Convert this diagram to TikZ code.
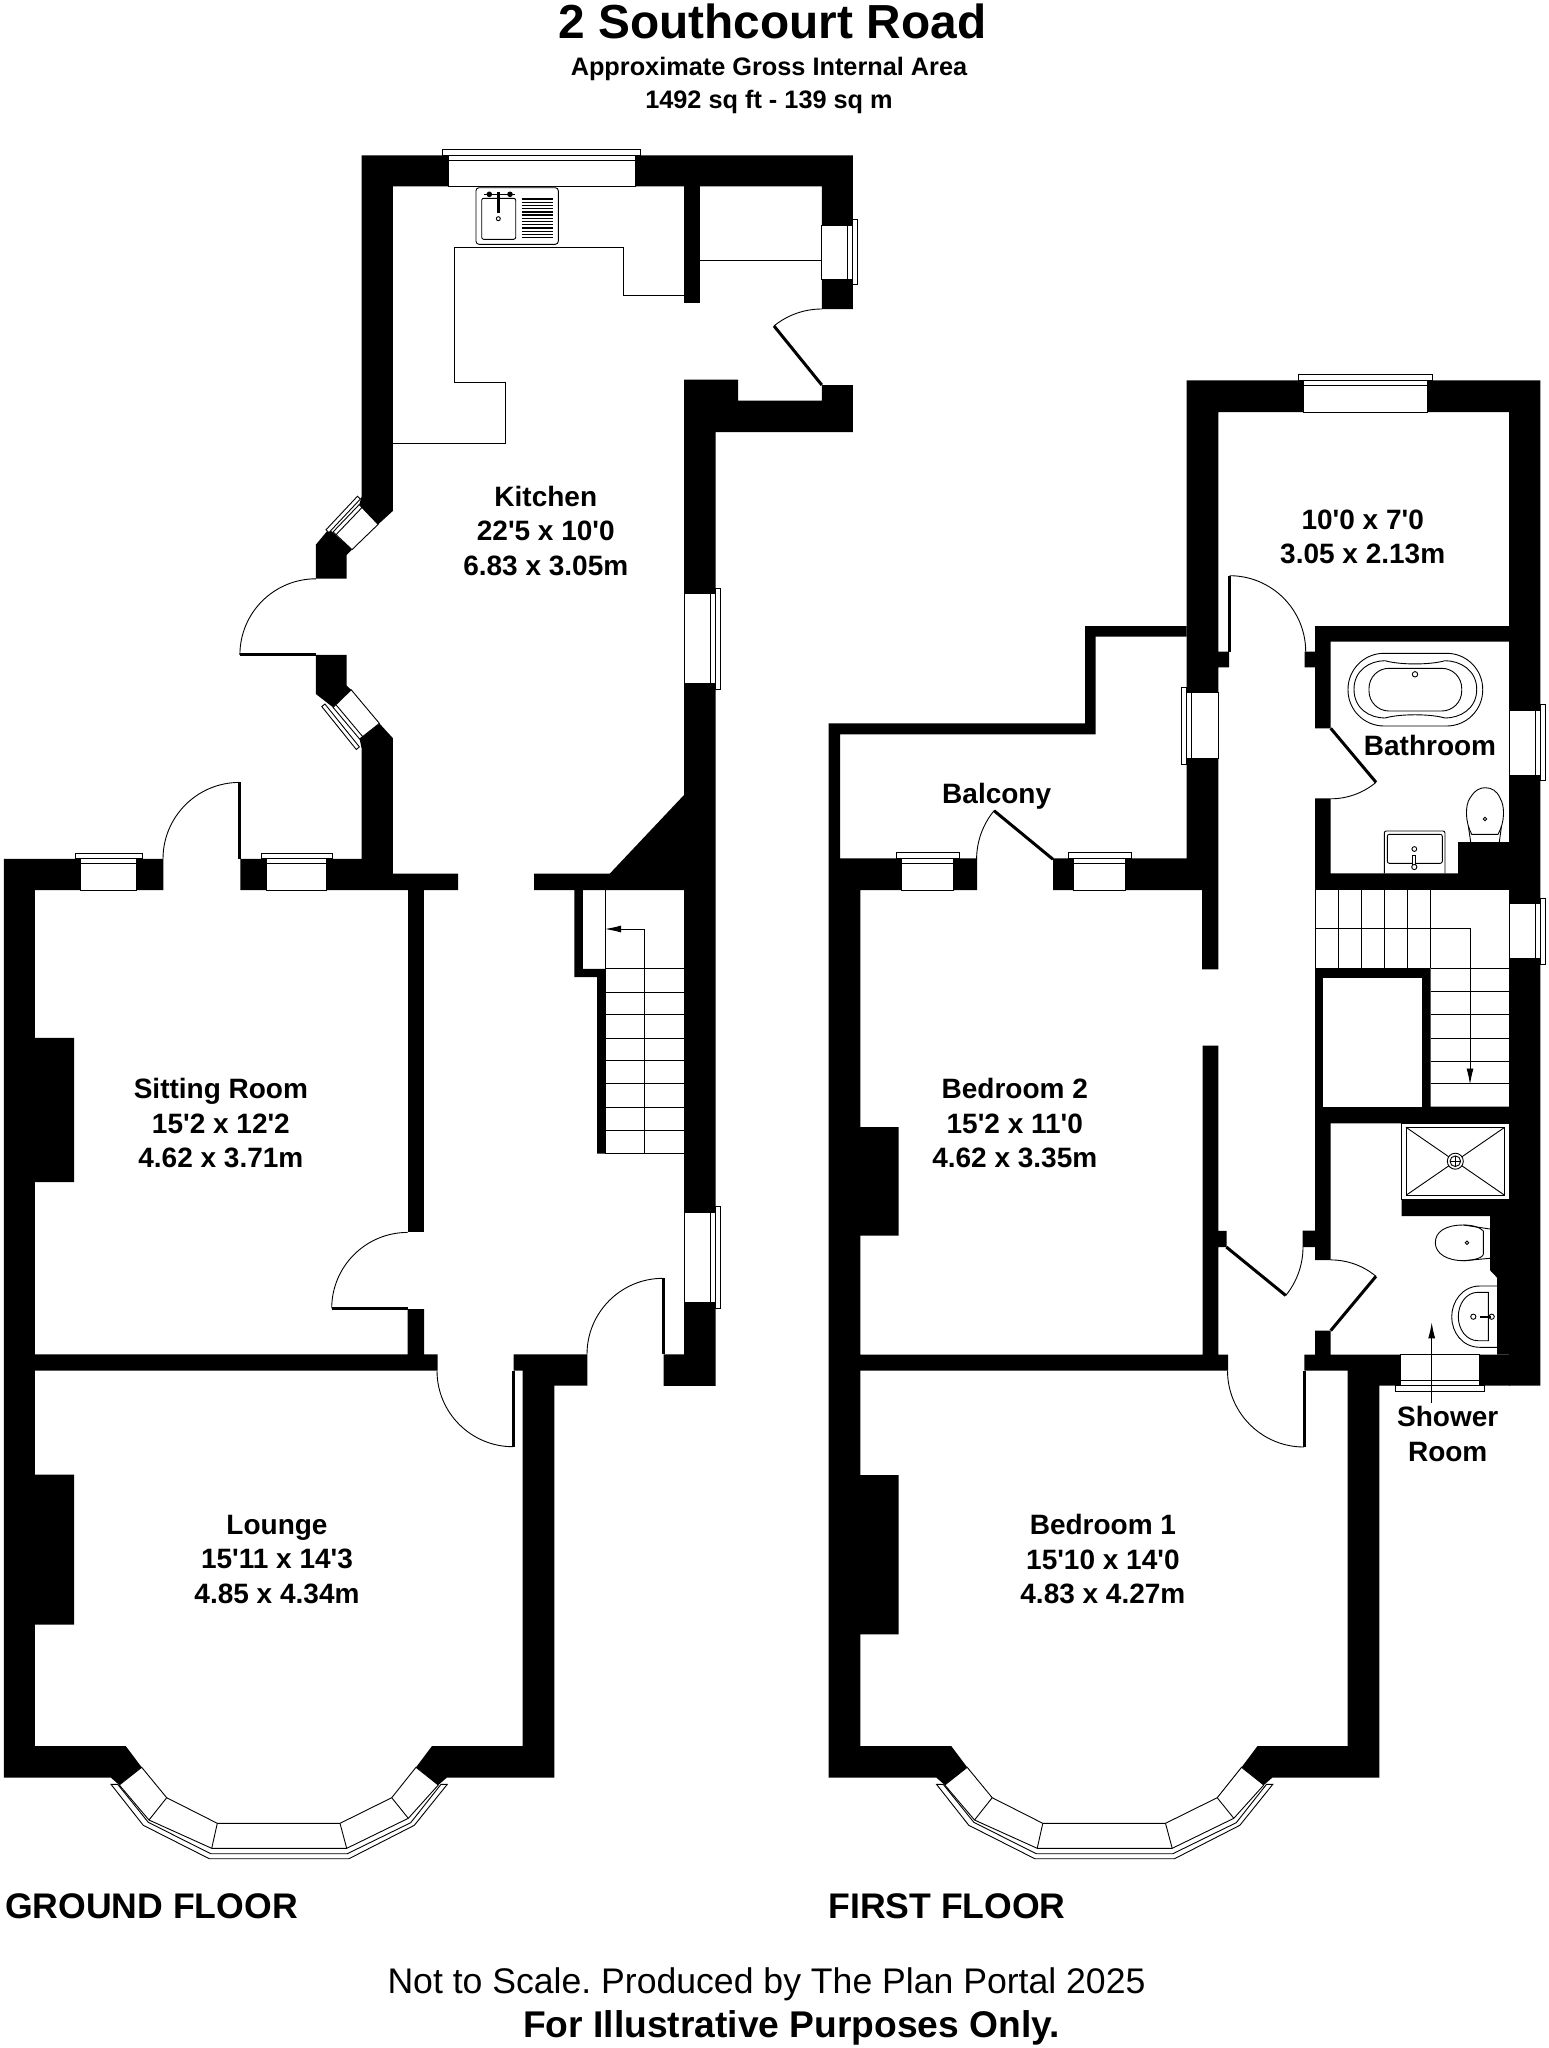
\documentclass[tikz,border=0pt]{standalone}
\usepackage{fontspec}
\usetikzlibrary{arrows.meta}
\newfontfamily\planfont{Liberation Sans}
\frenchspacing

\tikzset{
  wall/.style={fill=black},
  glass/.style={draw=black,fill=white,line width=.9pt},
  fixture/.style={draw=black,line width=.9pt},
  leaf/.style={line width=3pt},
  swing/.style={line width=.9pt},
  flight/.style={line width=.9pt},
  flow/.style={line width=.9pt,-{Latex[length=16pt,width=7pt]}},
  room/.style={inner sep=0pt,align=center,font=\fontsize{28}{34.4}\selectfont\planfont\bfseries},
}
% hinge, leaf angle, angle of the far end, radius
\newcommand\doorswing[4]{%
  \draw[leaf] (#1) -- ++(#2:#4);
  \draw[swing] (#1) ++(#2:#4) arc[start angle=#2,end angle=#3,radius=#4];
}
% x1, x2, outer face, inner face
\newcommand\winh[4]{%
  \pgfmathsetmacro\winsgn{(#4>#3)?1:-1}
  \draw[glass] (#1,#3) rectangle (#2,#4);
  \draw[glass] (#1-5.5,#3) rectangle (#2+5.5,#3-\winsgn*5.5);
  \draw[glass] (#1,#3) -- (#2,#3);
  \draw[fixture] (#1,#3+\winsgn*5) -- (#2,#3+\winsgn*5);
}
% y1, y2, outer face, inner face
\newcommand\winv[4]{%
  \pgfmathsetmacro\winsgn{(#4>#3)?1:-1}
  \draw[glass] (#3,#1) rectangle (#4,#2);
  \draw[glass] (#3,#1-5.5) rectangle (#3-\winsgn*5,#2+5.5);
  \draw[fixture] (#3+\winsgn*5,#1) -- (#3+\winsgn*5,#2);
}

\begin{document}
\begin{tikzpicture}[x=1pt,y=-1pt]
\fill[white] (0,0) rectangle (1549,2048);

% ground floor walls
\fill[wall] (361.7,155.3)--(852.9,155.3)--(852.9,309)--(821.8,309)--(821.8,186.4)--(392.9,186.4)--(392.9,510.9)--(378.1,524.4)--(359.2,504.6)--(361.7,496.2)--cycle;
\fill[wall] (684,186.4) rectangle (700,303);
\fill[wall] (684,379.6)--(738,379.6)--(738,400.6)--(821.8,400.6)--(821.8,385)--(852.9,385)--(852.9,432.2)--(715.7,432.2)--(715.7,1385.9)--(663.6,1385.9)--(663.6,1354.3)--(684,1354.3)--(684,890)--(534.2,890)--(534.2,873.6)--(609.8,873.6)--(684,795)--cycle;
\fill[wall] (328.9,529)--(315.9,544.6)--(315.9,578.7)--(346.6,578.7)--(346.6,555)--(352,549.6)--cycle;
\fill[wall] (315.9,654.8)--(346.6,654.8)--(346.6,685.6)--(351.2,689.8)--(333.1,707.4)--(315.9,694)--cycle;
\fill[wall] (359.6,739)--(379.4,723.4)--(392.9,738.2)--(392.9,873.6)--(458,873.6)--(458,890)--(240.4,890)--(240.4,858.9)--(361.7,858.9)--(361.7,748.7)--cycle;
\fill[wall] (3.9,858.9)--(163.4,858.9)--(163.4,890)--(34.9,890)--(34.9,1037.8)--(74.2,1037.8)--(74.2,1182)--(34.9,1182)--(34.9,1354.3)--(407.7,1354.3)--(407.7,1309.2)--(424.1,1309.2)--(424.1,1354.3)--(437.7,1354.3)--(437.7,1370.5)--(34.9,1370.5)--(34.9,1474.5)--(74,1474.5)--(74,1624.7)--(34.9,1624.7)--(34.9,1746)--(125.7,1746)--(141.7,1767.3)--(119.3,1785)--(111,1777.7)--(3.9,1777.7)--cycle;
\fill[wall] (407.7,890) rectangle (424.1,1232.2);
\fill[wall] (513.7,1354.3)--(587.3,1354.3)--(587.3,1385.7)--(554.3,1385.7)--(554.3,1777.7)--(446.7,1777.7)--(438.3,1785)--(416,1767.3)--(432,1746)--(522.7,1746)--(522.7,1370.7)--(513.7,1370.7)--cycle;
\fill[wall] (574.4,890)--(582,890)--(582,968.8)--(605,968.8)--(605,1153.5)--(597.2,1153.5)--(597.2,977.2)--(574.4,977.2)--cycle;

% first floor walls
\fill[wall] (828.7,723.3)--(1085,723.3)--(1085,626)--(1186.7,626)--(1186.7,636.7)--(1095.5,636.7)--(1095.5,734.3)--(840,734.3)--(840,858.3)--(977,858.3)--(977,890)--(860.4,890)--(860.4,1127)--(898.6,1127)--(898.6,1235.7)--(860.4,1235.7)--(860.4,1354.5)--(1202.5,1354.5)--(1202.5,1045.7)--(1218.3,1045.7)--(1218.3,1230.8)--(1226.5,1230.8)--(1226.5,1247)--(1218.3,1247)--(1218.3,1354.5)--(1228.2,1354.5)--(1228.2,1370.5)--(860.4,1370.5)--(860.4,1475)--(898.6,1475)--(898.6,1634.4)--(860.4,1634.4)--(860.4,1746)--(951.2,1746)--(967.2,1767.3)--(944.8,1785)--(936.5,1777.7)--(828.7,1777.7)--cycle;
\fill[wall] (1186.7,380.3)--(1540.3,380.3)--(1540.3,1385.7)--(1509,1385.7)--(1509,412)--(1218.3,412)--(1218.3,651.7)--(1229,651.7)--(1229,667.3)--(1218.3,667.3)--(1218.3,969.4)--(1202,969.4)--(1202,890)--(1053,890)--(1053,858.3)--(1186.7,858.3)--cycle;
\fill[wall] (1304.7,651.7)--(1315,651.7)--(1315,626)--(1509,626)--(1509,641.7)--(1330.7,641.7)--(1330.7,728.3)--(1315,728.3)--(1315,667.3)--(1304.7,667.3)--cycle;
\fill[wall] (1315,798.3)--(1330.7,798.3)--(1330.7,873.3)--(1458,873.3)--(1458,842)--(1510,842)--(1510,889.8)--(1315,889.8)--cycle;
\fill[wall] (1315,968.2)--(1430.7,968.2)--(1430.7,1106.5)--(1510,1106.5)--(1510,1123.3)--(1330.7,1123.3)--(1330.7,1260)--(1315,1260)--(1315,1247)--(1302.7,1247)--(1302.7,1230.6)--(1315,1230.6)--cycle;
\fill[white] (1323.3,977.6) rectangle (1422,1106.5);
\fill[wall] (1401.7,1199.6)--(1401.7,1216)--(1490,1216)--(1490,1270.2)--(1497,1277.6)--(1497,1354.7)--(1510,1354.7)--(1510,1199.6)--cycle;
\fill[wall] (1304.3,1354.7)--(1315,1354.7)--(1315,1330.6)--(1330.7,1330.6)--(1330.7,1354.7)--(1510,1354.7)--(1510,1385.7)--(1379.3,1385.7)--(1379.3,1777.7)--(1272.2,1777.7)--(1263.8,1785)--(1241.5,1767.3)--(1257.5,1746)--(1347.7,1746)--(1347.7,1370.5)--(1304.3,1370.5)--cycle;

% windows
\winh{448}{635}{155.3}{186.4}
\winv{225}{279}{852.9}{821.8}
\winv{593.8}{683.9}{715.7}{684}
\winv{1212.4}{1302.9}{715.5}{684}
\winh{80.5}{136.7}{858.9}{890}
\winh{266.6}{326.7}{858.9}{890}
\winh{1303.7}{1427}{380.3}{412}
\winv{692.7}{758.7}{1186.7}{1218.3}
\winv{710}{775}{1540.3}{1509}
\winv{903.7}{958.8}{1540.3}{1509}
\winh{901.7}{953.7}{858.3}{890}
\winh{1073.7}{1125.7}{858.3}{890}
\winh{1400.7}{1479.3}{1385.7}{1354.7}

% angled kitchen windows
\draw[glass] (359.2,504.6)--(378.1,524.4)--(352,549.6)--(333.1,531.9)--cycle;
\draw[glass] (357.5,496.2)--(360.4,499)--(328.9,532.6)--(326,529.8)--cycle;
\draw[fixture] (362.1,507.4)--(336,534.7);
\draw[glass] (351.2,689.8)--(379.4,723.4)--(359.6,739)--(333.1,707.4)--cycle;
\draw[glass] (321.8,706.6)--(324.9,704)--(359.4,746.9)--(356.3,749.5)--cycle;
\draw[fixture] (336.1,704.9)--(362.6,736.5);

% bay windows
\foreach \bayx in {0,825.5}{
\begin{scope}[shift={(\bayx,0)}]
\draw[glass] (141.7,1767.3)--(166.7,1797.7)--(217.3,1823.3)--(340,1823.3)--(391.7,1797.7)--(416,1767.3)--(438.3,1785)--(408.3,1818.3)--(346.7,1848.3)--(211.7,1848.3)--(149,1820)--(119.3,1785)--cycle;
\draw[glass] (111,1784.3)--(143.3,1825.3)--(209.3,1858.7)--(349,1858.7)--(414.3,1825.3)--(447.3,1784.3)--(441,1784.3)--(410.7,1822.7)--(347.3,1853.7)--(210.7,1853.7)--(148.3,1822.3)--(117.7,1784.3)--cycle;
\draw[fixture] (166.7,1797.7)--(149,1820);
\draw[fixture] (217.3,1823.3)--(211.7,1848.3);
\draw[fixture] (340,1823.3)--(346.7,1848.3);
\draw[fixture] (391.7,1797.7)--(408.3,1818.3);
\end{scope}
}

% doors
\doorswing{821.8,385}{231}{270}{76}
\doorswing{315.9,654.8}{180}{270}{76}
\doorswing{239.5,858.9}{270}{180}{76.5}
\doorswing{407.7,1308.4}{180}{270}{76}
\doorswing{663,1354.3}{270}{180}{76}
\doorswing{513,1370.7}{90}{180}{76}
\doorswing{1229.7,651.7}{270}{360}{76}
\doorswing{1330.7,728.3}{50}{90}{70.5}
\doorswing{1053,859.3}{219.5}{180}{76.4}
\doorswing{1226.3,1247}{39.2}{0}{76.7}
\doorswing{1330.7,1330.6}{-50.2}{-90}{70.7}
\doorswing{1304,1370.5}{90}{180}{76.5}

% kitchen worktop and sink
\draw[fixture] (684,295)--(623,295)--(623,247.4)--(454.3,247.4)--(454.3,382.5)--(505.7,382.5)--(505.7,443.5)--(392.9,443.5);
\draw[fixture] (700,260)--(821.8,260);
\draw[fixture,rounded corners=3pt] (476,187.7) rectangle (558.3,244.3);
\draw[fixture,rounded corners=2pt] (481.7,198.3) rectangle (515.7,239.3);
\draw[fixture,line width=2.4pt] (498.3,192)--(498.3,213);
\draw[fixture] (498.3,218.7) circle(2);
\fill (489.3,194.3) circle(2.8);
\fill (510,194.3) circle(2.8);
\draw[fixture] (484,194.3)--(515,194.3);
\foreach \i in {0,...,12}
  \draw[fixture,line width=1.3pt] (521.7,199+3.22*\i)--(552.7,199+3.22*\i);

% ground floor stairs
\draw[flight] (605,890)--(605,1153.5)--(684,1153.5);
\draw[flight] (582,890)--(582,968.8);
\foreach \treadY in {968.8,992.3,1014.6,1038.2,1060.9,1083.6,1107.2,1130.4}
  \draw[flight] (605,\treadY)--(684,\treadY);
\coordinate (lowfoot) at (644.7,1153.5);
\coordinate (lowturn) at (644.7,929);
\coordinate (lowtip) at (605,929);
\draw[flow] (lowfoot)--(lowturn)--(lowtip);

% first floor stairs
\foreach \treadX in {1338.7,1361.3,1384.3,1407.3,1430.7}
  \draw[flight] (\treadX,889.8)--(\treadX,968.2);
\foreach \treadY in {968.2,991.8,1014.3,1038.4,1061.2,1083.7}
  \draw[flight] (1430.7,\treadY)--(1509,\treadY);
\draw[flight] (1315,889.8)--(1315,968.2);
\coordinate (upfoot) at (1315.7,928.6);
\coordinate (upturn) at (1470,928.6);
\coordinate (uptip) at (1470,1084.5);
\draw[flow] (upfoot)--(upturn)--(uptip);

% bath
\draw[fixture,rounded corners=36pt] (1348,653.3) rectangle (1482.7,726);
\draw[fixture] (1354,689.3) .. controls (1354,670) and (1370,660.7) .. (1385,660.7) .. controls (1400,665) and (1430,665) .. (1445,660.7) .. controls (1460,660.7) and (1476.7,670) .. (1476.7,689.3) .. controls (1476.7,709) and (1460,718) .. (1445,718) .. controls (1430,713.7) and (1400,713.7) .. (1385,718) .. controls (1370,718) and (1354,709) .. (1354,689.3)--cycle;
\draw[fixture,rounded corners=20pt] (1369,668.3) rectangle (1461.7,711);
\draw[fixture] (1415,674.3) circle(2.7);

% bathroom wc and basin
\draw[fixture] (1471.7,834.3) .. controls (1465,822) and (1465,805) .. (1470,798) .. controls (1475,790) and (1480,787.7) .. (1485,787.7) .. controls (1492,787.7) and (1497,791) .. (1500,798) .. controls (1505,806) and (1505,822) .. (1498,834.3)--cycle;
\draw[fixture] (1468.3,826)--(1470.7,842);
\draw[fixture] (1501.5,826)--(1499.3,842);
\draw[fixture] (1485,819) circle(1.8);
\draw[fixture,rounded corners=2pt] (1384.3,873.3)--(1384.3,831)--(1445,831)--(1445,873.3);
\draw[fixture,rounded corners=2pt] (1387.3,834.3) rectangle (1442.3,863.3);
\draw[fixture] (1414.3,849) circle(2.4);
\draw[fixture,fill=white] (1412.8,855) rectangle (1415.8,866);
\draw[fixture,fill=white] (1414.3,867) circle(2.6);

% shower tray
\draw[fixture] (1401.7,1123.3) rectangle (1509,1199.6);
\draw[fixture] (1406,1127.3) rectangle (1504.7,1195.3);
\draw[fixture] (1406,1127.3)--(1504.7,1195.3);
\draw[fixture] (1406,1195.3)--(1504.7,1127.3);
\draw[fixture,fill=white] (1455.3,1161.2) circle(8);
\draw[fixture] (1455.3,1161.2) circle(5.3);
\draw[fixture] (1450,1161.2)--(1460.6,1161.2);
\draw[fixture] (1455.3,1155.9)--(1455.3,1166.5);

% shower room wc and basin
\draw[fixture] (1463.3,1225) .. controls (1445,1225) and (1435.3,1232) .. (1435.3,1242.7) .. controls (1435.3,1254) and (1448,1260.7) .. (1463.3,1260.7) .. controls (1472,1260.7) and (1483.3,1258) .. (1483.3,1254)--(1483.3,1231) .. controls (1480,1227) and (1472,1225) .. (1463.3,1225)--cycle;
\draw[fixture] (1463.3,1225)--(1490,1229);
\draw[fixture] (1463.3,1260.7)--(1490,1258.3);
\draw[fixture] (1467,1242.7) circle(1.8);
\draw[fixture] (1497,1286)--(1480,1286) .. controls (1462,1286) and (1451.7,1302) .. (1451.7,1316.7) .. controls (1451.7,1332) and (1462,1347.3) .. (1480,1347.3)--(1497,1347.3);
\draw[fixture] (1488.3,1292.3)--(1478,1292.3) .. controls (1466,1292.3) and (1458.3,1304) .. (1458.3,1316.7) .. controls (1458.3,1329) and (1466,1340.7) .. (1478,1340.7)--(1488.3,1340.7)--cycle;
\draw[fixture] (1473.3,1316.7) circle(2.6);
\draw[fixture,line width=1.6pt] (1480,1316.7)--(1491,1316.7);
\draw[fixture] (1491.7,1316.7) circle(2.6);
\coordinate (showerfoot) at (1431.7,1403);
\coordinate (showertip) at (1431.7,1322.4);
\draw[flow] (showerfoot)--(showertip);

% room names
\node[room] (kitchen) at (545.8,530.7) {Kitchen\\22'5 x 10'0\\6.83 x 3.05m};
\node[room] (sittingroom) at (220.9,1123) {Sitting Room\\15'2 x 12'2\\4.62 x 3.71m};
\node[room] (lounge) at (277,1559.5) {Lounge\\15'11 x 14'3\\4.85 x 4.34m};
\node[room] (bedroomtwo) at (1014.8,1123.3) {Bedroom 2\\15'2 x 11'0\\4.62 x 3.35m};
\node[room] (bedroomone) at (1102.9,1559) {Bedroom 1\\15'10 x 14'0\\4.83 x 4.27m};
\node[room] (backroom) at (1362.7,536.6) {10'0 x 7'0\\3.05 x 2.13m};
\node[room] (bathroom) at (1430,745) {Bathroom};
\node[room] (balcony) at (996.7,796.5) {Balcony};
\node[room] (showerroom) at (1447.7,1434) {Shower\\Room};

% titles
\node[inner sep=0pt,font=\fontsize{47.8}{50}\selectfont\planfont\bfseries] (title) at (772.5,21) {2 Southcourt Road};
\node[inner sep=0pt,align=center,font=\fontsize{25.3}{32.4}\selectfont\planfont\bfseries] (area) at (769,85.6) {Approximate Gross Internal Area\\1492 sq ft - 139 sq m};
\node[inner sep=0pt,font=\fontsize{35.6}{40}\selectfont\planfont\bfseries] (groundfloor) at (151.5,1906.5) {GROUND FLOOR};
\node[inner sep=0pt,font=\fontsize{35.6}{40}\selectfont\planfont\bfseries] (firstfloor) at (947,1906.5) {FIRST FLOOR};
\node[inner sep=0pt,font=\fontsize{35.6}{40}\selectfont\planfont] (scalenote) at (766.5,1984) {Not to Scale. Produced by The Plan Portal 2025};
\node[inner sep=0pt,font=\fontsize{37.2}{40}\selectfont\planfont\bfseries] (purposes) at (791.5,2028) {For Illustrative Purposes Only.};
\end{tikzpicture}
\end{document}
